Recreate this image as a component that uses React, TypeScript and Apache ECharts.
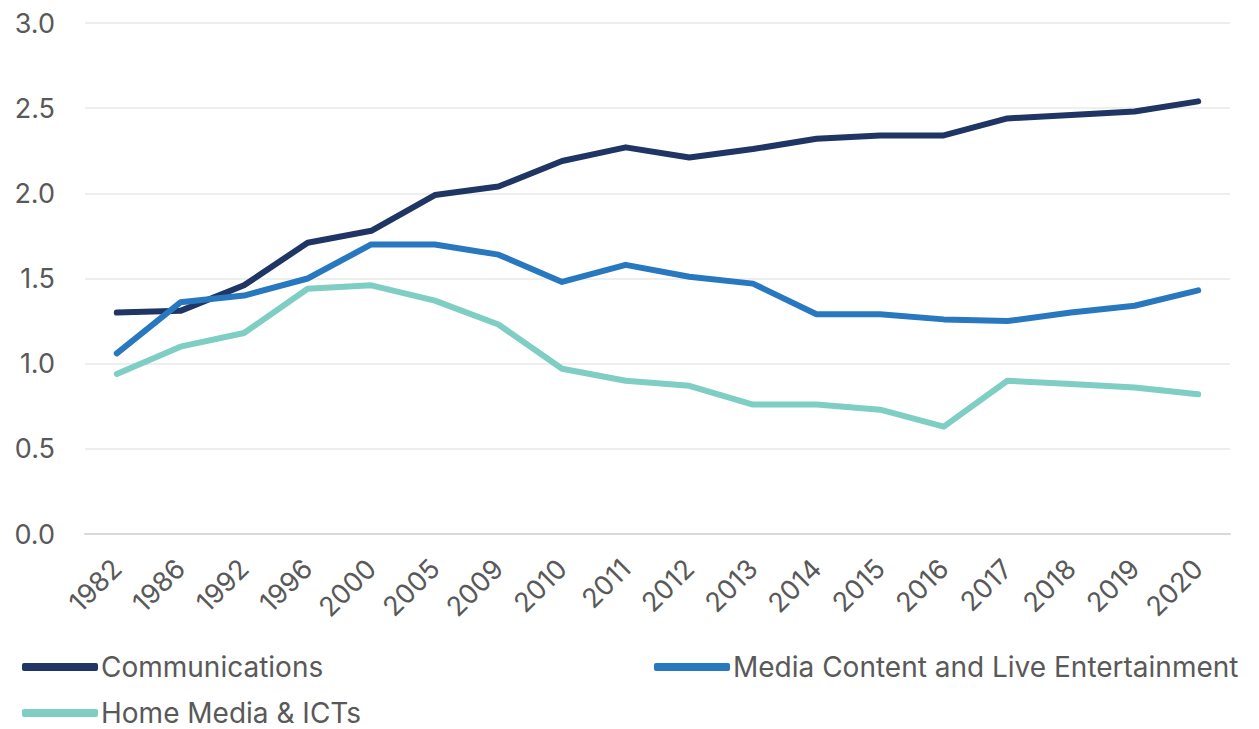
import React, { useEffect, useRef } from "react";
import * as echarts from "echarts";

const years = ["1982","1986","1992","1996","2000","2005","2009","2010","2011","2012","2013","2014","2015","2016","2017","2018","2019","2020"];
const communications = [1.30,1.31,1.46,1.71,1.78,1.99,2.04,2.19,2.27,2.21,2.26,2.32,2.34,2.34,2.44,2.46,2.48,2.54];
const mediaContent = [1.06,1.36,1.40,1.50,1.70,1.70,1.64,1.48,1.58,1.51,1.47,1.29,1.29,1.26,1.25,1.30,1.34,1.43];
const homeMedia = [0.94,1.10,1.18,1.44,1.46,1.37,1.23,0.97,0.90,0.87,0.76,0.76,0.73,0.63,0.90,0.88,0.86,0.82];
const yTicks = [0, 0.5, 1.0, 1.5, 2.0, 2.5, 3.0];

const names = ["Communications", "Media Content and Live Entertainment", "Home Media & ICTs"];
const colors = ["#1f3564", "#2878c0", "#7fcec3"];

export default function App() {
  const ref = useRef<HTMLDivElement>(null);
  useEffect(() => {
    if (!ref.current) return;
    const chart = echarts.init(ref.current, undefined, { renderer: "svg" });
    const font = "Inter, 'Noto Sans', sans-serif";
    const legendBase = {
      icon: "roundRect",
      itemWidth: 76,
      itemHeight: 8,
      itemGap: 6,
      padding: 0,
      textStyle: { fontSize: 28, color: "#595959", fontFamily: font, padding: [0, 0, 0, -2] },
      selectedMode: false,
    };
    chart.setOption({
      animation: false,
      color: colors,
      grid: { left: 85, right: 29, top: 23, bottom: 195 },
      legend: [
        { ...legendBase, data: [names[0]], left: 22, top: 653 },
        { ...legendBase, data: [names[1]], left: 654, top: 653 },
        { ...legendBase, data: [names[2]], left: 22, top: 699 },
      ],
      xAxis: {
        type: "category",
        data: years,
        boundaryGap: true,
        axisLine: { lineStyle: { color: "#d9d9d9", width: 2 } },
        axisTick: { show: false },
        axisLabel: {
          rotate: 45,
          fontSize: 27,
          color: "#595959",
          fontFamily: font,
          margin: 30,
          interval: 0,
        },
      },
      yAxis: {
        type: "value",
        min: yTicks[0],
        max: yTicks[yTicks.length - 1],
        interval: 0.5,
        axisLine: { show: false },
        axisTick: { show: false },
        splitLine: { lineStyle: { color: "#eeeeee", width: 2 } },
        axisLabel: {
          fontSize: 27,
          color: "#595959",
          fontFamily: font,
          margin: 30,
          formatter: (v: number) => v.toFixed(1),
        },
      },
      series: [communications, mediaContent, homeMedia].map((d, i) => ({
        name: names[i],
        type: "line",
        data: d,
        symbol: "none",
        lineStyle: { width: 6, color: colors[i], cap: "round", join: "round" },
        itemStyle: { color: colors[i] },
      })),
    });
    return () => chart.dispose();
  }, []);
  return <div ref={ref} style={{ width: 1259, height: 729, position: "absolute", left: 0, top: 0 }} />;
}
